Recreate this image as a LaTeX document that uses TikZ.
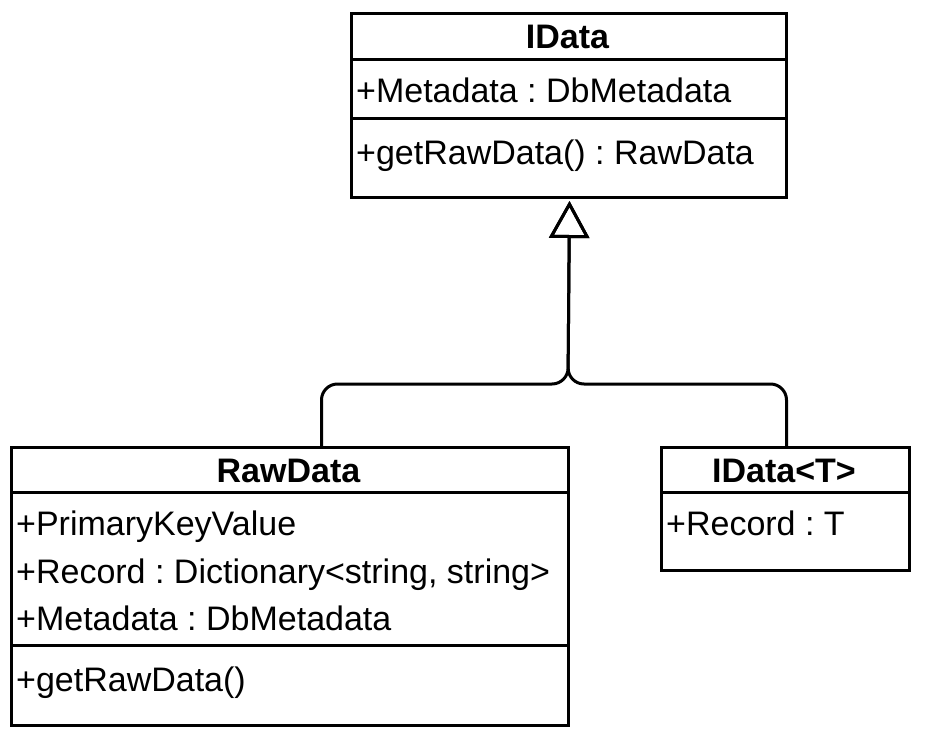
\documentclass[tikz,border=0pt]{standalone}
\usepackage{fontspec}
\setmainfont{Liberation Sans}
\frenchspacing
\usetikzlibrary{arrows.meta}
\begin{document}
\begin{tikzpicture}[x=1pt,y=-1pt,
  classbox/.style={draw=black,line width=3pt,fill=white,minimum width=#1,inner sep=0pt,anchor=north west},
  sepline/.style={draw=black,line width=3pt},
  titletext/.style={font=\fontsize{34}{40}\selectfont\bfseries\frenchspacing,inner sep=0pt,anchor=base},
  attrtext/.style={font=\fontsize{34}{40}\selectfont\frenchspacing,inner sep=0pt,anchor=base west},
  conn/.style={draw=black,line width=3pt,rounded corners=16pt,-{Triangle[open,length=37pt,width=40pt,line width=3pt]}}]
\useasboundingbox (0,0) rectangle (930,731);
% IData
\node[classbox=435pt,minimum height=184pt] (idata) at (350,12) {};
\draw[sepline] (idata.west |- 0,59) -- (idata.east |- 0,59);
\draw[sepline] (idata.west |- 0,118) -- (idata.east |- 0,118);
\node[titletext] (idatat) at (567.5,48) {IData};
\node[attrtext] (idatam) at (356,102) {+Metadata : DbMetadata};
\node[attrtext] (idatag) at (356,164) {+getRawData() : RawData};
% RawData
\node[classbox=557pt,minimum height=278pt] (raw) at (10,446) {};
\draw[sepline] (raw.west |- 0,492) -- (raw.east |- 0,492);
\draw[sepline] (raw.west |- 0,645) -- (raw.east |- 0,645);
\node[titletext] (rawt) at (288.5,482) {RawData};
\node[attrtext] (rawa) at (16,535) {+PrimaryKeyValue};
\node[attrtext] (rawb) at (16,583) {+Record : Dictionary<string, string>};
\node[attrtext] (rawc) at (16,630) {+Metadata : DbMetadata};
\node[attrtext] (rawd) at (16,691) {+getRawData()};
% IData<T>
\node[classbox=248pt,minimum height=123pt] (gen) at (660,446) {};
\draw[sepline] (gen.west |- 0,492) -- (gen.east |- 0,492);
\node[titletext] (gent) at (784,482) {IData<T>};
\node[attrtext] (genr) at (666,535) {+Record : T};
% connectors
\draw[conn] ([xshift=31.5pt]raw.north) |- (568,384) -- ([xshift=0.5pt,yshift=-2pt]idata.south);
\draw[conn] ([xshift=1pt]gen.north) |- (568,384) -- ([xshift=0.5pt,yshift=-2pt]idata.south);
\end{tikzpicture}
\end{document}
